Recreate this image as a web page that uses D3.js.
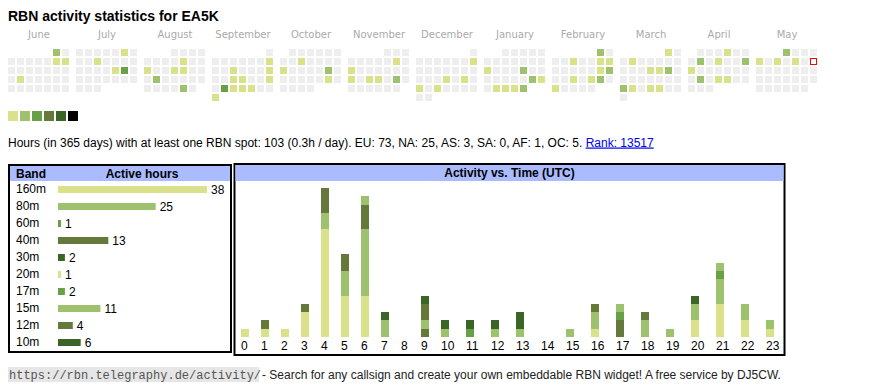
<!DOCTYPE html>
<html lang="en">
<head>
    <meta charset="UTF-8">
    <script src="https://d3js.org/d3.v7.min.js"></script>
    <title>RBN activity statistics for EA5K</title>
    <style>
        html,
        body {
            margin: 0px;
            padding: 0px;
            background-color: #ffffff;
        }
        svg {
            display: block;
            font-family: "Liberation Sans", Arial, sans-serif;
        }
    </style>
</head>
<body>
    <div id="widget"></div>
    <script>

        const callsign = 'EA5K';
        const monthNames = ['June', 'July', 'August', 'September', 'October', 'November',
            'December', 'January', 'February', 'March', 'April', 'May'];
        const firstMonth = '2024-06-01';
        const today = '2025-05-11';

        // day -> activity level (1..6)
        const activeDays = [
            ['2024-06-01', 2], ['2024-06-08', 1], ['2024-06-09', 1], ['2024-06-18', 1],
            ['2024-07-06', 1], ['2024-07-10', 1], ['2024-07-19', 1], ['2024-07-20', 3],
            ['2024-08-09', 1], ['2024-08-12', 1], ['2024-08-15', 1], ['2024-08-16', 1], ['2024-08-20', 2], ['2024-08-30', 2],
            ['2024-09-08', 1], ['2024-09-11', 1], ['2024-09-15', 1], ['2024-09-18', 1], ['2024-09-19', 1], ['2024-09-22', 1],
            ['2024-09-24', 3], ['2024-09-25', 1], ['2024-09-26', 1], ['2024-09-27', 1], ['2024-09-30', 1],
            ['2024-10-09', 1], ['2024-10-14', 1], ['2024-10-19', 2], ['2024-10-26', 1],
            ['2024-11-09', 1], ['2024-11-11', 1], ['2024-11-18', 1], ['2024-11-20', 1], ['2024-11-21', 1], ['2024-11-23', 2],
            ['2024-12-08', 1], ['2024-12-19', 1], ['2024-12-21', 1], ['2024-12-23', 1], ['2024-12-25', 1],
            ['2025-01-13', 1], ['2025-01-17', 2], ['2025-01-25', 2], ['2025-01-26', 1], ['2025-01-28', 1], ['2025-01-29', 1],
            ['2025-01-30', 1], ['2025-01-31', 2],
            ['2025-02-01', 2], ['2025-02-05', 1], ['2025-02-08', 1], ['2025-02-09', 1], ['2025-02-15', 1], ['2025-02-16', 2],
            ['2025-02-19', 1], ['2025-02-21', 1], ['2025-02-22', 2], ['2025-02-24', 1],
            ['2025-03-01', 1], ['2025-03-04', 1], ['2025-03-13', 1], ['2025-03-14', 1], ['2025-03-15', 2], ['2025-03-24', 2],
            ['2025-03-25', 1], ['2025-03-27', 1], ['2025-03-28', 1],
            ['2025-04-04', 1], ['2025-04-08', 2], ['2025-04-10', 1], ['2025-04-13', 2], ['2025-04-14', 1], ['2025-04-22', 2],
            ['2025-04-24', 1], ['2025-04-25', 1],
            ['2025-05-01', 2], ['2025-05-05', 1], ['2025-05-07', 1], ['2025-05-09', 1]
        ];
        const levels = [1, 2, 3, 4, 5, 6];
        const levelColors = ['#eeeeee', '#d9e18a', '#9dc16c', '#68a047', '#657a3a', '#3b6427', '#000000'];

        const totalHours = 103;
        const hoursPerDay = '0.3';
        const continents = ['EU', 'NA', 'AS', 'SA', 'AF', 'OC'];
        const continentHours = [73, 25, 3, 0, 1, 5];
        const rank = 13517;

        const bands = ['160m', '80m', '60m', '40m', '30m', '20m', '17m', '15m', '12m', '10m'];
        const bandHours = [38, 25, 1, 13, 2, 1, 2, 11, 4, 6];
        const bandColors = ['#d9e18a', '#9dc16c', '#68a047', '#657a3a', '#3b6427',
            '#d9e18a', '#68a047', '#9dc16c', '#657a3a', '#3b6427'];

        const hours = [0, 1, 2, 3, 4, 5, 6, 7, 8, 9, 10, 11, 12, 13, 14, 15, 16, 17, 18, 19, 20, 21, 22, 23];
        // active hours per UTC hour, one row per band (same order as bands)
        const bandByHour = [
            [1, 1, 1, 3, 13, 5, 5, 0, 0, 0, 0, 0, 0, 0, 0, 0, 1, 0, 0, 0, 2, 4, 2, 0],
            [0, 0, 0, 0, 2, 3, 8, 2, 0, 0, 0, 0, 0, 0, 0, 0, 2, 0, 2, 0, 2, 3, 1, 0],
            [0, 0, 0, 0, 0, 0, 0, 0, 0, 0, 0, 0, 0, 0, 0, 0, 0, 0, 0, 0, 0, 1, 0, 0],
            [0, 1, 0, 1, 3, 2, 3, 0, 0, 1, 0, 0, 0, 0, 0, 0, 0, 2, 0, 0, 0, 0, 0, 0],
            [0, 0, 0, 0, 0, 0, 0, 1, 0, 0, 0, 0, 0, 0, 0, 0, 0, 0, 0, 0, 1, 0, 0, 0],
            [0, 0, 0, 0, 0, 0, 0, 0, 0, 0, 0, 0, 0, 0, 0, 0, 0, 0, 0, 0, 0, 0, 0, 1],
            [0, 0, 0, 0, 0, 0, 0, 0, 0, 0, 0, 1, 0, 0, 0, 0, 0, 1, 0, 0, 0, 0, 0, 0],
            [0, 0, 0, 0, 0, 0, 1, 0, 0, 1, 1, 0, 1, 1, 0, 1, 0, 1, 0, 1, 0, 1, 1, 1],
            [0, 0, 0, 0, 0, 0, 0, 0, 0, 2, 0, 0, 0, 0, 0, 0, 1, 0, 1, 0, 0, 0, 0, 0],
            [0, 0, 0, 0, 0, 0, 0, 0, 0, 1, 1, 1, 1, 2, 0, 0, 0, 0, 0, 0, 0, 0, 0, 0]
        ];

        const footerUrl = 'https://rbn.telegraphy.de/activity/';
        const footerText = '- Search for any callsign and create your own embeddable RBN widget! A free service by DJ5CW.';

        // ---- drawing ----
        const width = 870, height = 390;
        const svg = d3.select('#widget').append('svg').attr('width', width).attr('height', height);

        const parse = d3.timeParse('%Y-%m-%d');
        const fmt = d3.timeFormat('%Y-%m-%d');
        const levelByDay = new Map(activeDays);
        const todayDate = parse(today);

        svg.append('text')
            .attr('x', 8).attr('y', 21)
            .attr('font-size', '14px').attr('font-weight', 'bold')
            .text('RBN activity statistics for ' + callsign);

        // calendar: one block per month, Monday-first columns, week rows
        const cell = 7, pitch = 9, monthPitch = 68, calX = 8, calY = 49;
        const color = d3.scaleOrdinal().domain(d3.range(levelColors.length)).range(levelColors);

        const months = svg.append('g').selectAll('g')
            .data(monthNames.map((name, i) => ({ name, start: d3.timeMonth.offset(parse(firstMonth), i) })))
            .join('g')
            .attr('transform', (d, i) => `translate(${calX + i * monthPitch},0)`);

        months.append('text')
            .attr('x', 31).attr('y', 38)
            .attr('text-anchor', 'middle')
            .attr('font-family', '"DejaVu Sans", sans-serif')
            .attr('font-size', '10px')
            .attr('fill', '#aaaaaa')
            .text(d => d.name);

        months.selectAll('rect')
            .data(d => d3.timeDay.range(d.start, d3.timeMonth.offset(d.start, 1)))
            .join('rect')
            .attr('x', d => ((d.getDay() + 6) % 7) * pitch)
            .attr('y', d => calY + d3.timeMonday.count(d3.timeMonth.floor(d), d) * pitch)
            .attr('width', cell).attr('height', cell)
            .attr('fill', d => +d === +todayDate ? '#ffffff' : color(levelByDay.get(fmt(d)) || 0));

        months.selectAll('rect')
            .filter(d => +d === +todayDate)
            .attr('x', function () { return +this.getAttribute('x') + 0.5; })
            .attr('y', function () { return +this.getAttribute('y') + 0.5; })
            .attr('width', cell - 1).attr('height', cell - 1)
            .attr('stroke', '#ff0000').attr('stroke-width', 1);

        // legend
        svg.append('g').selectAll('rect')
            .data(levels)
            .join('rect')
            .attr('x', (d, i) => 8 + i * 12).attr('y', 111)
            .attr('width', 10).attr('height', 10)
            .attr('fill', d => color(d));

        // summary line
        const summary = svg.append('text')
            .attr('x', 8).attr('y', 146.5)
            .attr('font-size', '12px');
        summary.append('tspan')
            .text(`Hours (in 365 days) with at least one RBN spot: ${totalHours} (${hoursPerDay}h / day). `
                + continents.map((c, i) => `${c}: ${continentHours[i]}`).join(', ') + '. ');
        summary.append('tspan')
            .attr('fill', '#0000ee')
            .attr('text-decoration', 'underline')
            .text('Rank: ' + rank);

        // band table
        const bandBox = svg.append('g');
        bandBox.append('rect')
            .attr('x', 9).attr('y', 165).attr('width', 222).attr('height', 187)
            .attr('fill', 'none').attr('stroke', '#000').attr('stroke-width', 2);
        bandBox.append('rect')
            .attr('x', 10).attr('y', 166).attr('width', 220).attr('height', 15)
            .attr('fill', '#aabbff');
        bandBox.append('text')
            .attr('x', 16).attr('y', 177.5)
            .attr('font-size', '12px').attr('font-weight', 'bold')
            .text('Band');
        bandBox.append('text')
            .attr('x', 142).attr('y', 177.5)
            .attr('text-anchor', 'middle')
            .attr('font-size', '12px').attr('font-weight', 'bold')
            .text('Active hours');

        const bx = d3.scaleLinear().domain([0, d3.max(bandHours)]).range([0, 150]);
        const by = d3.scaleBand().domain(bands).range([186, 186 + 17 * bands.length]);

        const rows = bandBox.selectAll('g.row')
            .data(bands)
            .join('g')
            .attr('class', 'row')
            .attr('transform', d => `translate(0,${by(d)})`);
        rows.append('text')
            .attr('x', 16).attr('y', 7)
            .attr('font-size', '12px')
            .text(d => d);
        rows.append('rect')
            .attr('x', 58).attr('y', 0)
            .attr('width', (d, i) => Math.max(2, bx(bandHours[i]) - 1)).attr('height', 7)
            .attr('fill', (d, i) => bandColors[i]);
        rows.append('text')
            .attr('x', (d, i) => 58 + Math.max(2, bx(bandHours[i]) - 1) + 4).attr('y', 7.5)
            .attr('font-size', '12px')
            .text((d, i) => bandHours[i]);

        // activity vs time
        const actBox = svg.append('g');
        actBox.append('rect')
            .attr('x', 234.5).attr('y', 164).attr('width', 550).attr('height', 191)
            .attr('fill', 'none').attr('stroke', '#000').attr('stroke-width', 2);
        actBox.append('rect')
            .attr('x', 235.5).attr('y', 165).attr('width', 548).attr('height', 16)
            .attr('fill', '#aabbff');
        actBox.append('text')
            .attr('x', 509.5).attr('y', 177)
            .attr('text-anchor', 'middle')
            .attr('font-size', '12px').attr('font-weight', 'bold')
            .text('Activity vs. Time (UTC)');

        // table cells are as wide as their labels: 20px for one digit, 25px for two
        const lefts = [];
        hours.reduce((x, h) => { lefts.push(x); return x + (String(h).length > 1 ? 25 : 20); }, 241);
        const hx = d3.scaleOrdinal().domain(hours).range(lefts);

        const table = hours.map((h, i) => {
            const row = { hour: h };
            bands.forEach((b, j) => row[b] = bandByHour[j][i]);
            return row;
        });
        const series = d3.stack().keys(bands)(table);
        const hy = d3.scaleLinear()
            .domain([0, d3.max(series[series.length - 1], d => d[1])])
            .range([337, 188]);

        actBox.append('g').selectAll('g')
            .data(series)
            .join('g')
            .attr('fill', (s, i) => bandColors[i])
            .selectAll('rect')
            .data(s => s.filter(d => d[1] > d[0]))
            .join('rect')
            .attr('x', d => hx(d.data.hour))
            .attr('y', d => Math.round(hy(d[1])))
            .attr('width', 8)
            .attr('height', d => Math.round(hy(d[0])) - Math.round(hy(d[1])));

        actBox.append('g').selectAll('text')
            .data(hours)
            .join('text')
            .attr('x', d => hx(d)).attr('y', 350)
            .attr('font-size', '12px')
            .text(d => d);

        // footer
        svg.append('rect')
            .attr('x', 8).attr('y', 367).attr('width', 251).attr('height', 15)
            .attr('fill', '#e6e6e6');
        svg.append('text')
            .attr('x', 9).attr('y', 378.5)
            .attr('font-family', '"Liberation Mono", monospace')
            .attr('font-size', '12px')
            .attr('fill', '#555555')
            .text(footerUrl);
        svg.append('text')
            .attr('x', 262).attr('y', 378.5)
            .attr('font-size', '12px')
            .attr('fill', '#222222')
            .text(footerText);

    </script>
</body>
</html>
